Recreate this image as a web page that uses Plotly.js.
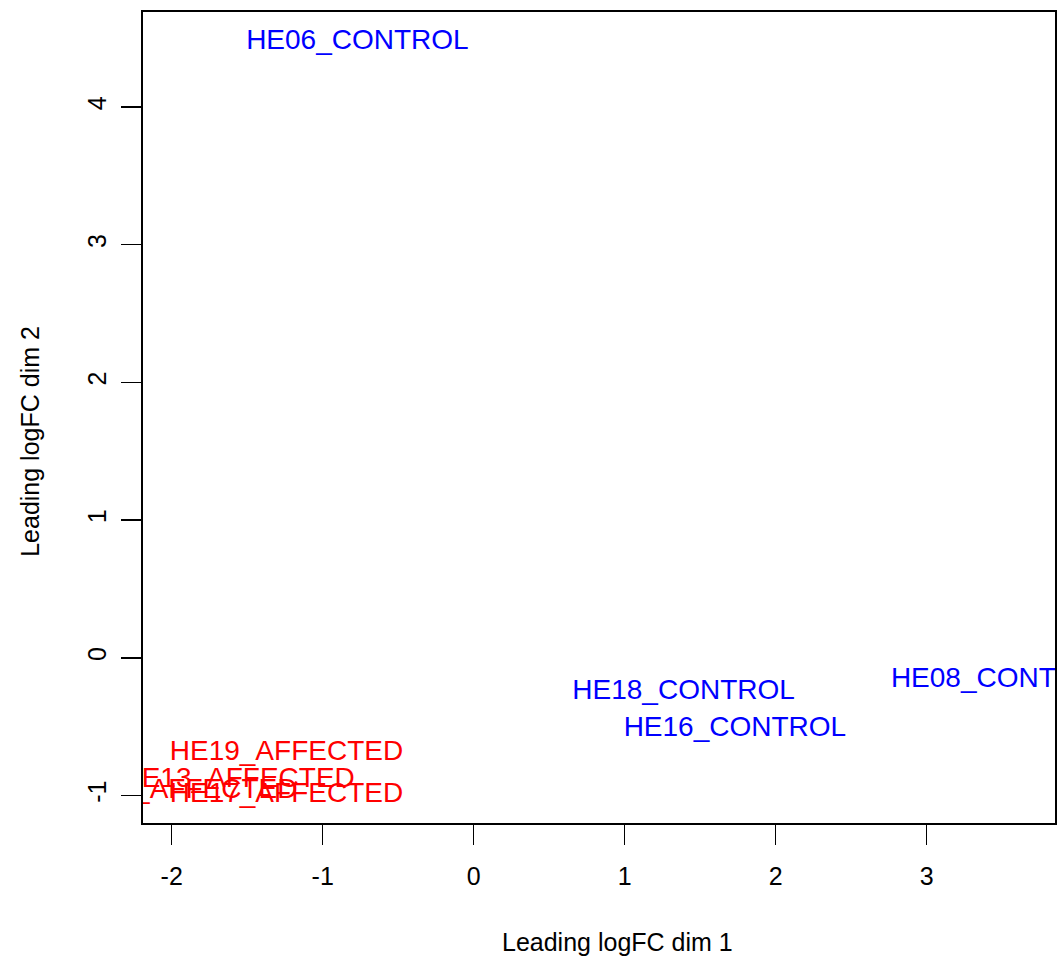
<!DOCTYPE html>
<html>
<head>
<meta charset="utf-8">
<script src="https://cdn.plot.ly/plotly-3.0.1.min.js"></script>
<style>html,body{margin:0;padding:0;background:#fff;}</style>
</head>
<body>
<div id="chart" style="width:1057px;height:958px;"></div>
<script>
// Sample labels and MDS coordinates
var controlLabels = ["HE06_CONTROL", "HE18_CONTROL", "HE16_CONTROL", "HE08_CONTROL"];
var controlDim1 = [-0.77, 1.39, 1.73, 3.50];
var controlDim2 = [4.47, -0.25, -0.52, -0.16];

var affectedLabels = ["HE19_AFFECTED", "HE13_AFFECTED", "HE15_AFFECTED", "HE17_AFFECTED"];
var affectedDim1 = [-1.24, -1.56, -1.94, -1.24];
var affectedDim2 = [-0.69, -0.89, -0.97, -1.00];

var xTicks = [-2, -1, 0, 1, 2, 3];
var yTicks = [-1, 0, 1, 2, 3, 4];

var fontFam = "Liberation Sans, Arial, sans-serif";

var traces = [
  {
    x: controlDim1, y: controlDim2, text: controlLabels,
    mode: "text", type: "scatter", textposition: "middle center",
    cliponaxis: true, hoverinfo: "text",
    textfont: {family: fontFam, size: 28, color: "#0000FF"}
  },
  {
    x: affectedDim1, y: affectedDim2, text: affectedLabels,
    mode: "text", type: "scatter", textposition: "middle center",
    cliponaxis: true, hoverinfo: "text",
    textfont: {family: fontFam, size: 28, color: "#FF0000"}
  }
];

var layout = {
  width: 1057, height: 958,
  margin: {l: 143, r: 2, t: 12, b: 135, pad: 0},
  paper_bgcolor: "#fff", plot_bgcolor: "#fff",
  showlegend: false,
  font: {family: fontFam, size: 24, color: "#000"},
  xaxis: {
    range: [-2.19, 3.85], tickvals: xTicks, ticktext: xTicks.map(String),
    showgrid: false, zeroline: false, showline: true, mirror: true,
    linecolor: "#000", linewidth: 2, ticks: "outside", ticklen: 20,
    tickwidth: 1.5, tickcolor: "#000", ticklabelstandoff: 10,
    tickfont: {family: fontFam, size: 25, color: "#000"}
  },
  yaxis: {
    range: [-1.20, 4.69], tickvals: yTicks, ticktext: yTicks.map(String),
    showgrid: false, zeroline: false, showline: true, mirror: true,
    linecolor: "#000", linewidth: 2, ticks: "outside", ticklen: 20,
    tickwidth: 1.5, tickcolor: "#000", tickangle: -90, ticklabelstandoff: 5,
    tickfont: {family: fontFam, size: 25, color: "#000"}
  },
  annotations: [
    {text: "Leading logFC dim 1", xref: "paper", yref: "paper",
     x: 0.52, y: 0, yshift: -119, showarrow: false,
     xanchor: "center", yanchor: "middle",
     font: {family: fontFam, size: 25, color: "#000"}},
    {text: "Leading logFC dim 2", xref: "paper", yref: "paper",
     x: 0, xshift: -113, y: 0.47, showarrow: false, textangle: -90,
     xanchor: "center", yanchor: "middle",
     font: {family: fontFam, size: 25, color: "#000"}}
  ]
};

Plotly.newPlot("chart", traces, layout, {displayModeBar: false, staticPlot: true});
</script>
</body>
</html>
